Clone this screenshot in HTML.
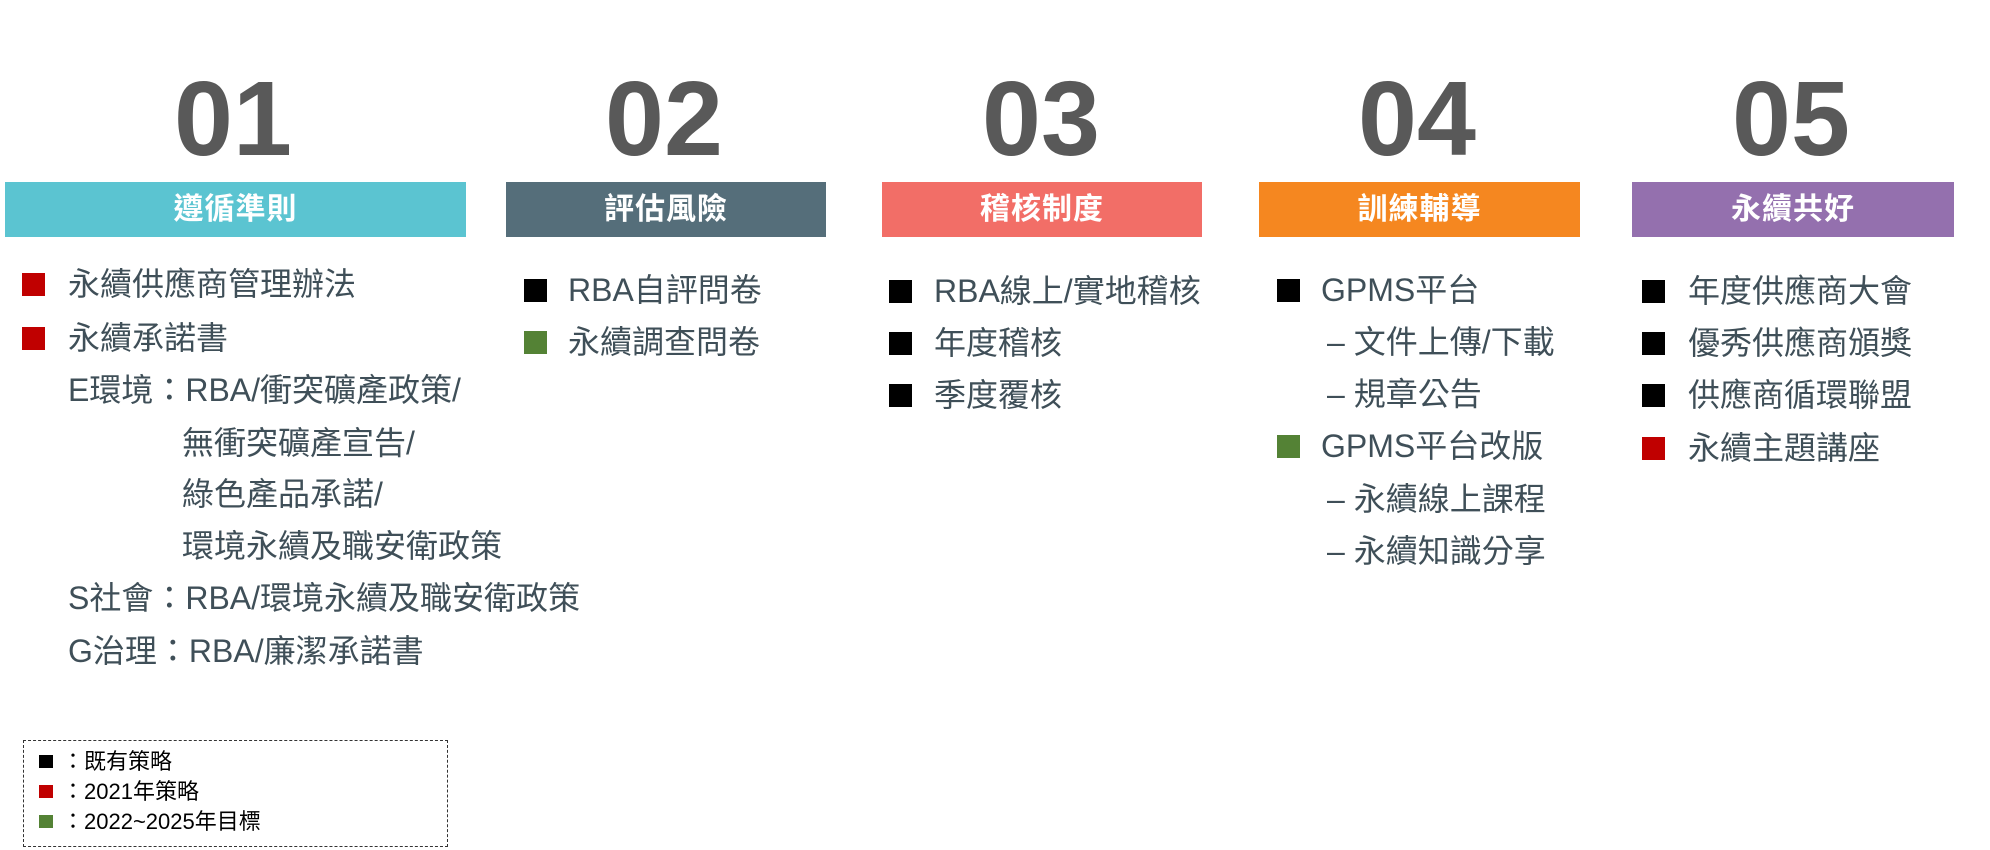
<!DOCTYPE html>
<html><head><meta charset="utf-8"><style>
*{margin:0;padding:0;box-sizing:border-box}
body{width:1990px;height:850px;background:#fff;position:relative;overflow:hidden;font-family:"Liberation Sans","Noto Sans CJK TC",sans-serif}
.num{position:absolute;top:54px;width:300px;margin-left:-150px;text-align:center;font-weight:bold;font-size:106px;color:#595959;line-height:130px}
.bar{position:absolute;top:182px;height:55px;color:#fff;font-weight:bold;font-size:30px;text-align:center;line-height:55px;letter-spacing:1px}
.t{position:absolute;font-size:32px;color:#3f4f58;line-height:40px;white-space:nowrap;margin-top:-20px}
.sq{position:absolute;width:23px;height:23px;margin-top:-11px}
.k{background:#000}.r{background:#c00000}.g{background:#548235}
.lg{position:absolute;left:23px;top:740px;width:425px;height:107px;border:1.5px dashed #333}
.lt{position:absolute;font-size:22px;color:#000;line-height:26px;margin-top:-13px;white-space:nowrap}
.ls{position:absolute;left:39px;width:14px;height:13px;margin-top:-7px}
</style></head><body>
<div class="num" style="left:233px">01</div>
<div class="num" style="left:664px">02</div>
<div class="num" style="left:1041px">03</div>
<div class="num" style="left:1417px">04</div>
<div class="num" style="left:1791px">05</div>

<div class="bar" style="left:5px;width:461px;background:#5bc4d1">遵循準則</div>
<div class="bar" style="left:506px;width:320px;background:#556e7a">評估風險</div>
<div class="bar" style="left:882px;width:320px;background:#f26e67">稽核制度</div>
<div class="bar" style="left:1259px;width:321px;background:#f58720">訓練輔導</div>
<div class="bar" style="left:1632px;width:322px;background:#9470ae">永續共好</div>

<!-- col1 -->
<div class="sq r" style="left:22px;top:284px"></div><div class="t" style="left:68px;top:284px">永續供應商管理辦法</div>
<div class="sq r" style="left:22px;top:338px"></div><div class="t" style="left:68px;top:338px">永續承諾書</div>
<div class="t" style="left:68px;top:390px">E環境：RBA/衝突礦產政策/</div>
<div class="t" style="left:182px;top:443px">無衝突礦產宣告/</div>
<div class="t" style="left:182px;top:494px">綠色產品承諾/</div>
<div class="t" style="left:182px;top:546px">環境永續及職安衛政策</div>
<div class="t" style="left:68px;top:598px">S社會：RBA/環境永續及職安衛政策</div>
<div class="t" style="left:68px;top:651px">G治理：RBA/廉潔承諾書</div>

<!-- col2 -->
<div class="sq k" style="left:524px;top:290px"></div><div class="t" style="left:568px;top:290px">RBA自評問卷</div>
<div class="sq g" style="left:524px;top:342px"></div><div class="t" style="left:568px;top:342px">永續調查問卷</div>

<!-- col3 -->
<div class="sq k" style="left:889px;top:291px"></div><div class="t" style="left:934px;top:291px">RBA線上/實地稽核</div>
<div class="sq k" style="left:889px;top:343px"></div><div class="t" style="left:934px;top:343px">年度稽核</div>
<div class="sq k" style="left:889px;top:395px"></div><div class="t" style="left:934px;top:395px">季度覆核</div>

<!-- col4 -->
<div class="sq k" style="left:1277px;top:290px"></div><div class="t" style="left:1321px;top:290px">GPMS平台</div>
<div class="t" style="left:1327px;top:342px">–  文件上傳/下載</div>
<div class="t" style="left:1327px;top:394px">–  規章公告</div>
<div class="sq g" style="left:1277px;top:446px"></div><div class="t" style="left:1321px;top:446px">GPMS平台改版</div>
<div class="t" style="left:1327px;top:499px">–  永續線上課程</div>
<div class="t" style="left:1327px;top:551px">–  永續知識分享</div>

<!-- col5 -->
<div class="sq k" style="left:1642px;top:291px"></div><div class="t" style="left:1688px;top:291px">年度供應商大會</div>
<div class="sq k" style="left:1642px;top:343px"></div><div class="t" style="left:1688px;top:343px">優秀供應商頒獎</div>
<div class="sq k" style="left:1642px;top:395px"></div><div class="t" style="left:1688px;top:395px">供應商循環聯盟</div>
<div class="sq r" style="left:1642px;top:448px"></div><div class="t" style="left:1688px;top:448px">永續主題講座</div>

<div class="lg"></div>
<div class="ls k" style="top:762px"></div><div class="lt" style="left:62px;top:762px">：既有策略</div>
<div class="ls r" style="top:792px"></div><div class="lt" style="left:62px;top:792px">：2021年策略</div>
<div class="ls g" style="top:822px"></div><div class="lt" style="left:62px;top:822px">：2022~2025年目標</div>
</body></html>
